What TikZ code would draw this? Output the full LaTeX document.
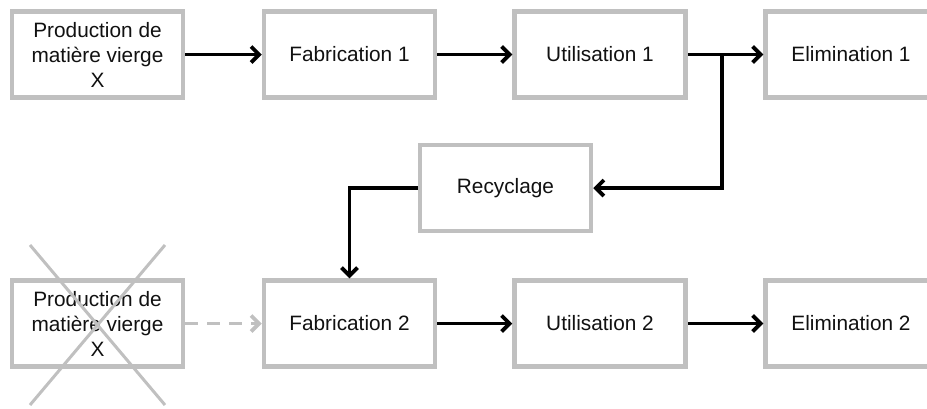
\documentclass[tikz,border=0pt]{standalone}
\usepackage{fontspec}
\setmainfont{Liberation Sans}
\usetikzlibrary{arrows.meta}
\definecolor{boxgray}{HTML}{C0C0C0}
\definecolor{inkblack}{HTML}{111111}
\tikzset{
  x=1pt, y=-1pt,
  stage/.style={draw=boxgray, line width=4.5pt, fill=white, minimum width=171pt,
    minimum height=86pt, inner sep=0pt, align=center, text=inkblack,
    font=\fontsize{20.8}{25}\selectfont},
  flow/.style={line width=3.8pt, -{Straight Barb[length=8pt,width=16pt,line width=3.8pt]}},
  ghostflow/.style={draw=boxgray, line width=3.8pt, dash pattern=on 13pt off 9pt,
    -{Straight Barb[length=8pt,width=16pt,line width=3.8pt]}},
  strike/.style={draw=boxgray, line width=3pt}
}
\begin{document}
\begin{tikzpicture}
\useasboundingbox (0,0) rectangle (927,408);
\clip (0,0) rectangle (927,408);

% first cycle
\node[stage] (A1) at (97.5,54.5) {Production de\\matière vierge\\X};
\node[stage] (F1) at (349.5,54.5) {Fabrication 1};
\node[stage] (U1) at (600,54.5) {Utilisation 1};
\node[stage, minimum width=190pt] (E1) at (860.5,54.5) {\hspace*{-19pt}Elimination 1};

% recycling
\node[stage] (R) at (505.5,188) {Recyclage};

% second cycle
\node[stage] (A2) at (97.5,323.5) {Production de\\matière vierge\\X};
\node[stage] (F2) at (349.5,323.5) {Fabrication 2};
\node[stage] (U2) at (600,323.5) {Utilisation 2};
\node[stage, minimum width=190pt] (E2) at (860.5,323.5) {\hspace*{-19pt}Elimination 2};

% connectors
\draw[flow] (A1.east) -- (F1.west);
\draw[flow] (F1.east) -- (U1.west);
\draw[flow] (U1.east) -- (E1.west);
\coordinate (branch) at (722,54.5);
\draw[flow] (branch) |- (R.east);
\draw[flow] (R.west) -| (F2.north);
\draw[ghostflow] (A2.east) -- (F2.west);
\draw[flow] (F2.east) -- (U2.west);
\draw[flow] (U2.east) -- (E2.west);

% virgin material no longer needed
\coordinate (xa) at (30,245);
\coordinate (xb) at (165,405);
\coordinate (xc) at (165,245);
\coordinate (xd) at (30,405);
\draw[strike] (xa) -- (xb);
\draw[strike] (xc) -- (xd);
\end{tikzpicture}
\end{document}
